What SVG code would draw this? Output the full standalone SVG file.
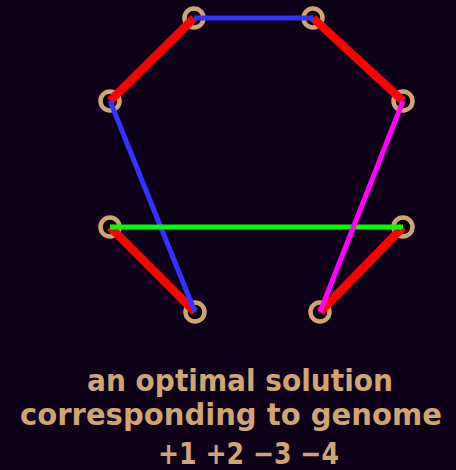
<svg xmlns="http://www.w3.org/2000/svg" width="456" height="470" viewBox="0 0 456 470">
<style>
.node{fill:#050008;stroke:#cfa574;stroke-width:4.5}
.red{stroke:#ff0000;stroke-width:8.5}
.blue{stroke:#3333ff;stroke-width:5}
.green{stroke:#00ff00;stroke-width:5}
.mag{stroke:#ff00ff;stroke-width:5}
.lbl{font-family:"DejaVu Sans",sans-serif;font-weight:bold;font-size:30px;fill:#cfa574;text-anchor:middle}
</style>
<rect width="456" height="470" fill="#0e0019"/>
<g id="n1"><circle class="node" cx="194" cy="18" r="9.5"/></g>
<g id="n2"><circle class="node" cx="313" cy="18" r="9.5"/></g>
<g id="n3"><circle class="node" cx="110" cy="101" r="9.5"/></g>
<g id="n4"><circle class="node" cx="403" cy="101" r="9.5"/></g>
<g id="n5"><circle class="node" cx="110" cy="227" r="9.5"/></g>
<g id="n6"><circle class="node" cx="403" cy="227" r="9.5"/></g>
<g id="n7"><circle class="node" cx="195" cy="312" r="9.5"/></g>
<g id="n8"><circle class="node" cx="320" cy="312" r="9.5"/></g>
<g id="edges">
<line class="red" x1="194" y1="18" x2="110" y2="101"/>
<line class="red" x1="313" y1="18" x2="403" y2="101"/>
<line class="red" x1="110" y1="227" x2="195" y2="312"/>
<line class="red" x1="403" y1="227" x2="320" y2="312"/>
<line class="blue" x1="194" y1="18" x2="313" y2="18"/>
<line class="blue" x1="110" y1="101" x2="195" y2="312"/>
<line class="green" x1="110" y1="227" x2="403" y2="227"/>
<line class="mag" x1="403" y1="101" x2="320" y2="312"/>
</g>
<text class="lbl" x="240" y="391" textLength="306" lengthAdjust="spacingAndGlyphs">an optimal solution</text>
<text class="lbl" x="231" y="425" textLength="422" lengthAdjust="spacingAndGlyphs">corresponding to genome</text>
<text class="lbl" x="248.5" y="464" textLength="181" lengthAdjust="spacingAndGlyphs">+1 +2 −3 −4</text>
</svg>
